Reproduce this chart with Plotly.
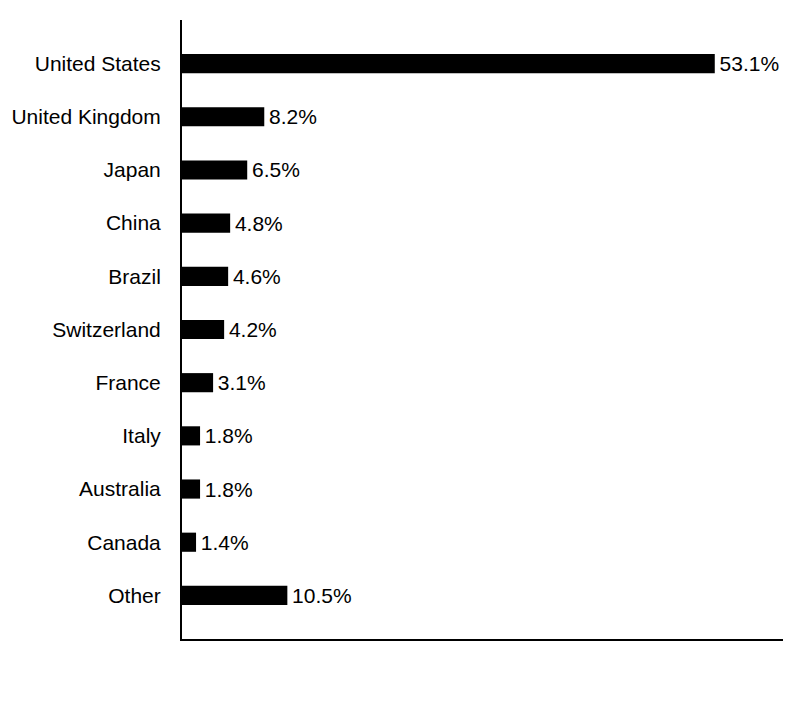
import plotly.graph_objects as go

countries = [
    "United States", "United Kingdom", "Japan", "China", "Brazil",
    "Switzerland", "France", "Italy", "Australia", "Canada", "Other",
]
shares = [53.1, 8.2, 6.5, 4.8, 4.6, 4.2, 3.1, 1.8, 1.8, 1.4, 10.5]

fig = go.Figure()

# hair space in front of the label gives the small gap after each bar
fig.add_trace(go.Bar(
    x=shares,
    y=countries,
    orientation="h",
    width=0.36,
    marker=dict(color="black", line=dict(width=0)),
    text=[f"\u200a{v:.1f}%" for v in shares],
    textposition="outside",
    constraintext="none",
    textfont=dict(color="black", size=21),
    cliponaxis=False,
    showlegend=False))

fig.update_xaxes(
    range=[0, 59.9],
    showticklabels=False,
    showgrid=False,
    zeroline=False,
    showline=True,
    linecolor="black",
    linewidth=2,
    ticks="",
    automargin=False)

fig.update_yaxes(
    categoryorder="array",
    categoryarray=countries,
    range=[10.82, -0.82],
    showgrid=False,
    zeroline=False,
    showline=True,
    linecolor="black",
    linewidth=2,
    ticks="",
    ticklabelstandoff=15,
    tickfont=dict(color="black", size=21),
    automargin=False)

# page body adds ~8px offset, so margins are shifted to compensate
fig.update_layout(
    width=804,
    height=720,
    margin=dict(l=174, r=29, t=12, b=89),
    plot_bgcolor="white",
    paper_bgcolor="white",
    font=dict(family="Liberation Sans, Arial, sans-serif", color="black", size=21))

fig.write_html("out.html")
